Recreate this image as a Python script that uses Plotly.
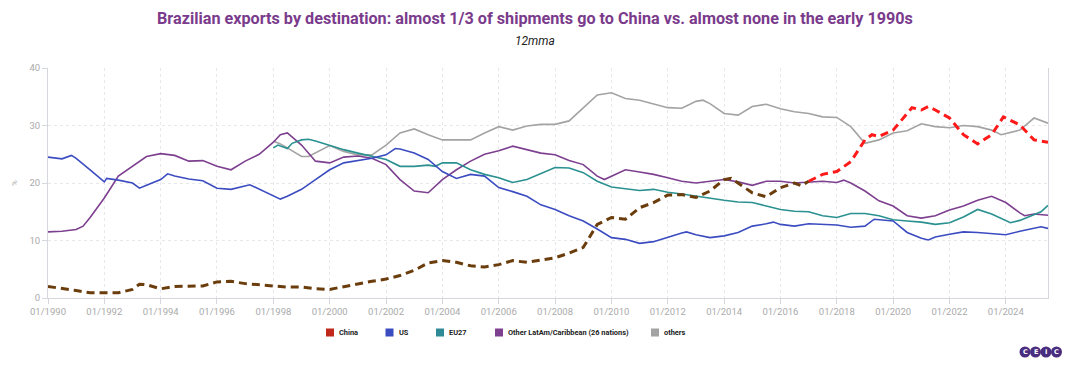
import plotly.graph_objects as go

# ---------------- data (share of Brazilian exports, %, 12mma) ----------------
us_dates = ["1990-01","1990-07","1990-11","1991-01","1991-07","1992-01","1992-02","1992-07","1993-01","1993-04",
            "1993-07","1994-01","1994-04","1994-07","1995-01","1995-07","1996-01","1996-07","1997-03","1997-07",
            "1998-01","1998-04","1998-07","1999-01","1999-07","2000-01","2000-07","2001-01","2001-07","2002-01",
            "2002-05","2002-07","2003-01","2003-07","2004-01","2004-07","2005-01","2005-07","2006-01","2006-07",
            "2007-01","2007-07","2008-01","2008-07","2009-01","2009-07","2010-01","2010-07","2011-01","2011-07",
            "2012-01","2012-07","2012-09","2013-01","2013-07","2014-01","2014-07","2015-01","2015-07","2015-10",
            "2016-01","2016-07","2017-01","2017-07","2018-01","2018-07","2019-01","2019-05","2020-01","2020-07",
            "2021-01","2021-04","2021-07","2022-01","2022-07","2023-01","2023-07","2024-01","2024-07","2025-01",
            "2025-04","2025-07"]
us = [24.5,24.2,24.8,24.3,22.3,20.2,20.8,20.5,20.0,19.1,
      19.6,20.6,21.6,21.2,20.7,20.4,19.1,18.9,19.7,18.9,
      17.7,17.2,17.7,18.9,20.6,22.3,23.5,23.9,24.3,24.9,
      26.0,25.9,25.2,24.1,22.0,20.8,21.5,21.2,19.2,18.5,
      17.7,16.2,15.4,14.3,13.4,12.0,10.5,10.2,9.5,9.8,
      10.6,11.3,11.5,11.0,10.5,10.8,11.4,12.5,12.9,13.2,
      12.8,12.5,12.9,12.8,12.7,12.3,12.5,13.7,13.4,11.4,
      10.4,10.1,10.6,11.1,11.5,11.4,11.2,11.0,11.6,12.1,
      12.4,12.1]

latam_dates = ["1990-01","1990-07","1991-01","1991-04","1991-07","1992-01","1992-07","1993-01","1993-07","1994-01",
               "1994-07","1995-01","1995-07","1996-01","1996-07","1997-01","1997-07","1998-01","1998-04","1998-07",
               "1999-01","1999-07","2000-01","2000-07","2001-01","2001-07","2002-01","2002-07","2003-01","2003-07",
               "2004-01","2004-07","2005-01","2005-07","2006-01","2006-07","2007-01","2007-07","2008-01","2008-07",
               "2009-01","2009-07","2009-10","2010-01","2010-07","2011-01","2011-07","2012-01","2012-07","2013-01",
               "2013-07","2014-01","2014-07","2015-01","2015-07","2016-01","2016-07","2017-01","2017-07","2018-01",
               "2018-04","2018-07","2019-01","2019-07","2020-01","2020-07","2021-01","2021-07","2022-01","2022-07",
               "2023-01","2023-07","2024-01","2024-07","2024-09","2025-01","2025-07"]
latam = [11.5,11.6,11.9,12.5,14.0,17.4,21.2,22.9,24.6,25.1,
         24.8,23.8,23.9,22.9,22.3,23.8,25.0,27.1,28.4,28.7,
         26.6,23.8,23.5,24.5,24.7,24.3,23.2,20.6,18.6,18.3,
         20.6,22.3,23.8,25.0,25.6,26.4,25.8,25.2,24.9,23.9,
         23.2,21.2,20.6,21.2,22.3,21.9,21.5,20.9,20.3,20.0,
         20.3,20.6,20.2,19.6,20.3,20.3,20.0,20.1,20.3,20.1,
         20.5,20.0,18.6,16.9,16.0,14.3,13.9,14.3,15.3,16.0,
         17.0,17.7,16.6,14.8,14.3,14.6,14.4]

eu_dates = ["1998-01","1998-03","1998-07","1998-09","1999-01","1999-04","1999-07","2000-01","2000-07","2001-01",
            "2001-07","2002-01","2002-07","2003-01","2003-07","2003-10","2004-01","2004-07","2005-01","2005-07",
            "2006-01","2006-07","2007-01","2007-07","2008-01","2008-07","2009-01","2009-07","2010-01","2010-07",
            "2011-01","2011-07","2012-01","2012-07","2013-01","2013-07","2014-01","2014-07","2015-01","2015-07",
            "2016-01","2016-07","2017-01","2017-07","2018-01","2018-07","2019-01","2019-07","2020-01","2020-07",
            "2021-01","2021-07","2022-01","2022-07","2023-01","2023-07","2024-01","2024-03","2024-07","2025-01",
            "2025-04","2025-07"]
eu27 = [26.1,26.6,26.0,26.9,27.5,27.6,27.3,26.5,25.8,25.2,
        24.6,24.1,22.9,22.9,23.1,22.9,23.5,23.5,22.3,21.5,
        20.9,20.1,20.6,21.6,22.7,22.6,21.8,20.3,19.3,19.0,
        18.7,18.9,18.4,18.1,17.7,17.4,17.0,16.7,16.6,16.0,
        15.4,15.1,15.0,14.3,14.0,14.7,14.7,14.3,13.6,13.4,
        13.2,12.8,13.1,14.1,15.4,14.6,13.4,13.1,13.5,14.5,
        15.0,16.1]

oth_dates = ["1998-01","1998-04","1998-07","1999-01","1999-04","1999-07","2000-01","2000-07","2001-01","2001-07",
             "2002-01","2002-07","2003-01","2003-07","2004-01","2004-07","2005-01","2005-07","2006-01","2006-07",
             "2007-01","2007-07","2008-01","2008-07","2009-01","2009-07","2010-01","2010-07","2011-01","2011-07",
             "2012-01","2012-07","2013-01","2013-04","2013-07","2014-01","2014-07","2015-01","2015-07","2016-01",
             "2016-07","2017-01","2017-07","2018-01","2018-07","2019-01","2019-07","2020-01","2020-07","2021-01",
             "2021-07","2022-01","2022-07","2023-01","2023-07","2023-11","2024-07","2025-01","2025-07"]
others = [27.3,26.8,26.1,24.6,24.6,25.2,26.5,25.5,24.9,24.9,
          26.6,28.7,29.4,28.4,27.5,27.5,27.5,28.7,29.8,29.2,
          29.9,30.2,30.2,30.8,33.0,35.3,35.7,34.7,34.4,33.7,
          33.1,33.0,34.2,34.4,33.8,32.1,31.8,33.3,33.7,32.9,
          32.4,32.1,31.5,31.4,29.8,26.9,27.5,28.7,29.1,30.3,
          29.8,29.6,30.0,29.8,29.2,28.4,29.2,31.3,30.4]

china_dates = ["1990-01","1990-07","1991-01","1991-07","1992-01","1992-07","1993-01","1993-04","1993-07","1994-01",
               "1994-07","1995-01","1995-07","1996-01","1996-07","1997-01","1997-07","1998-01","1998-07","1999-01",
               "1999-07","2000-01","2000-07","2001-01","2001-07","2002-01","2002-07","2003-01","2003-07","2004-01",
               "2004-07","2005-01","2005-07","2006-01","2006-07","2007-01","2007-07","2008-01","2008-07","2009-01",
               "2009-07","2010-01","2010-07","2011-01","2011-07","2012-01","2012-07","2013-01","2013-07","2014-01",
               "2014-04","2014-07","2015-01","2015-07","2016-01","2016-07","2016-10","2017-01","2017-07","2018-01",
               "2018-07","2019-01","2019-04","2019-07","2020-01","2020-07","2020-09","2021-01","2021-04","2021-07",
               "2022-01","2022-07","2023-01","2023-07","2023-12","2024-07","2025-01","2025-07"]
china = [2.0,1.7,1.3,0.9,0.9,0.9,1.5,2.4,2.3,1.6,
         2.0,2.1,2.1,2.8,2.9,2.5,2.3,2.1,1.9,1.9,
         1.6,1.5,2.0,2.5,2.9,3.3,3.9,4.8,6.1,6.5,
         6.2,5.6,5.4,5.8,6.5,6.2,6.6,7.0,7.8,8.8,
         12.8,14.0,13.7,15.7,16.6,17.9,18.0,17.5,18.6,20.6,
         20.8,20.0,18.3,17.6,19.2,20.0,19.5,20.3,21.5,22.0,
         23.7,27.5,28.4,28.1,29.2,32.1,33.1,32.7,33.3,32.7,
         31.3,28.4,26.8,28.4,31.5,30.1,27.5,27.1]
china_color_switch = "2017-01"   # dashed line turns from brown to red here

legend_names = ["China", "US", "EU27", "Other LatAm/Caribbean (26 nations)", "others"]
x_tick_labels = ["01/%d" % y for y in range(1990, 2025, 2)]
x_tick_vals = ["%d-01-01" % y for y in range(1990, 2025, 2)]
y_tick_vals = [0, 10, 20, 30, 40]

# ---------------- colours ----------------
C_US = "#3b4cc0"
C_EU = "#2a9090"
C_LA = "#7d3f8f"
C_OT = "#a3a3a3"
C_CN_OLD = "#6b3d0c"
C_CN_NEW = "#ff1a1a"
legend_colors = ["#c0281c", C_US, "#2f8a96", C_LA, C_OT]
legend_x = [330, 389.5, 440, 499, 655]      # swatch centres (screen px)

# geometry: the html page adds an 8px body margin, so the figure is
# shrunk and all target (screen) positions are shifted by that offset
OFF = 8
W, H = 1070 - OFF, 365 - OFF
PL, PR, PT, PB = 48, 1048, 68, 298          # plot area in screen pixels
L, T = PL - OFF, PT - OFF
R, B = W - (PR - OFF), H - (PB - OFF)
PW, PH = PR - PL, PB - PT

def px(x):  # screen pixel x -> paper
    return (x - PL) / PW

def py(y):  # screen pixel y -> paper
    return (PB - y) / PH

fig = go.Figure()
k = china_dates.index(china_color_switch)

fig.add_trace(go.Scatter(x=oth_dates, y=others, mode="lines", line=dict(color=C_OT, width=1.6),
                         name="others"))
fig.add_trace(go.Scatter(x=latam_dates, y=latam, mode="lines", line=dict(color=C_LA, width=1.6),
                         name="Other LatAm/Caribbean (26 nations)"))
fig.add_trace(go.Scatter(x=eu_dates, y=eu27, mode="lines", line=dict(color=C_EU, width=1.6),
                         name="EU27"))
fig.add_trace(go.Scatter(x=us_dates, y=us, mode="lines", line=dict(color=C_US, width=1.6),
                         name="US"))
fig.add_trace(go.Scatter(x=china_dates[:k + 1], y=china[:k + 1], mode="lines",
                         line=dict(color=C_CN_OLD, width=3, dash="8px,5px"), name="China"))
fig.add_trace(go.Scatter(x=china_dates[k:], y=china[k:], mode="lines",
                         line=dict(color=C_CN_NEW, width=3, dash="8px,5px"), name="China"))

# legend: square swatches + bold labels
for nm, col, cx in zip(legend_names, legend_colors, legend_x):
    fig.add_shape(type="rect", xref="paper", yref="paper", x0=px(cx - 4), x1=px(cx + 4),
                  y0=py(336.5), y1=py(328.5), fillcolor=col, line=dict(width=0), layer="above")
    fig.add_annotation(xref="paper", yref="paper", x=px(cx + 7), y=py(332.5), xanchor="left",
                       yanchor="middle", text="<b>%s</b>" % nm, showarrow=False,
                       font=dict(family="Roboto", size=7.4, color="#222222"))

# title / subtitle / axis unit
fig.add_annotation(xref="paper", yref="paper", x=px(535), y=py(19), xanchor="center", yanchor="middle",
                   text="<b>Brazilian exports by destination: almost 1/3 of shipments go to China vs. almost none in the early 1990s</b>",
                   showarrow=False, font=dict(family="Roboto", size=16.2, color="#7a3b8c"))
fig.add_annotation(xref="paper", yref="paper", x=px(535), y=py(41), xanchor="center", yanchor="middle",
                   text="<i>12mma</i>", showarrow=False, font=dict(family="Roboto", size=12, color="#222222"))
fig.add_annotation(xref="paper", yref="paper", x=px(14), y=py(183), xanchor="center", yanchor="middle",
                   text="%", textangle=-90, showarrow=False, font=dict(family="Roboto", size=8, color="#aaaaaa"))

# CEIC logo
letters = ["C", "E", "I", "C"]
cx0 = 1025
for i, ch in enumerate(letters):
    cx = cx0 + i * 10.5
    fig.add_shape(type="circle", xref="paper", yref="paper", x0=px(cx - 5.5), x1=px(cx + 5.5),
                  y0=py(357.5), y1=py(346.5), fillcolor="#4a2d7e", line=dict(width=0), layer="above")
    fig.add_annotation(xref="paper", yref="paper", x=px(cx), y=py(352), xanchor="center", yanchor="middle",
                       text="<b>%s</b>" % ch, showarrow=False,
                       font=dict(family="DejaVu Sans", size=6.5, color="white"))

fig.update_layout(
    width=W, height=H,
    margin=dict(l=L, r=R, t=T, b=B, autoexpand=False),
    paper_bgcolor="white", plot_bgcolor="white",
    font=dict(family="Roboto", color="#999999"),
    showlegend=False,
)
fig.update_xaxes(type="date", range=["1990-01-01", "2025-07-01"], automargin=False,
                 tickvals=x_tick_vals, ticktext=x_tick_labels,
                 tickfont=dict(size=9.5, color="#aaaaaa"),
                 showgrid=True, gridcolor="#e8e8ec", griddash="dot", gridwidth=1,
                 showline=True, linecolor="#d6d6de", linewidth=1, mirror=False,
                 ticks="outside", ticklen=5, tickcolor="#d6d6de", zeroline=False)
fig.update_yaxes(range=[0, 40], tickvals=y_tick_vals, automargin=False,
                 tickfont=dict(size=9.5, color="#aaaaaa"),
                 showgrid=True, gridcolor="#e8e8ec", griddash="dot", gridwidth=1,
                 showline=True, linecolor="#d6d6de", linewidth=1, mirror=True,
                 ticks="outside", ticklen=5, tickcolor="#d6d6de", zeroline=False)

fig.write_html("out.html")
